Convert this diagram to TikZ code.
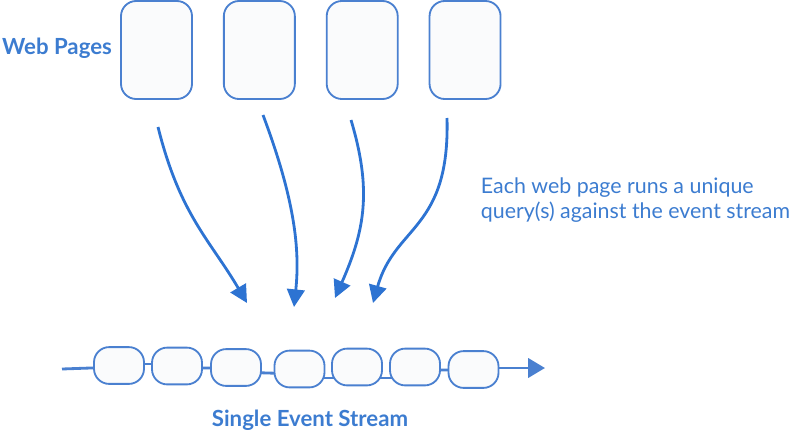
\documentclass[tikz,border=0pt]{standalone}
\usepackage{fontspec}
\setmainfont{Lato}
\usepackage{tikz}
\usetikzlibrary{positioning}
\usetikzlibrary{arrows.meta}
\usetikzlibrary{calc}
\usetikzlibrary{backgrounds}
\definecolor{edgecolor}{RGB}{74,128,208}
\definecolor{arrowcolor}{RGB}{45,115,210}
\definecolor{labelcolor}{RGB}{60,124,208}
\definecolor{boxfill}{RGB}{250,251,252}

\begin{document}
\begin{tikzpicture}[
    x=0.025cm, y=-0.025cm,
    page/.style={rectangle, draw=edgecolor, fill=boxfill, line width=1.3pt, minimum width=1.775cm, minimum height=2.45cm, rounded corners=0.38cm},
    event/.style={rectangle, draw=edgecolor, fill=boxfill, line width=1.3pt, minimum width=1.25cm, minimum height=0.92cm, rounded corners=0.38cm},
    arrow/.style={-{Triangle[length=0.44cm, width=0.44cm]}, line width=2pt, draw=arrowcolor},
    streamline/.style={line width=2pt, draw=edgecolor},
    title/.style={font=\fontsize{15.8}{18}\selectfont\bfseries, text=labelcolor}
]
\useasboundingbox (0,0) rectangle (800,434);

% Web pages
\node[page] (p1) at (156.5,50) {};
\node[page, right=0.75cm of p1] (p2) {};
\node[page, right=0.75cm of p2] (p3) {};
\node[page, right=0.75cm of p3] (p4) {};
\node[title, left=0.08cm of p1, yshift=1pt] (pages) {Web Pages};

% Event stream
\node[event] (ev1) at (119,365.5) {};
\node[event] (ev2) at (177,366) {};
\node[event] (ev3) at (236,367.5) {};
\node[event] (ev4) at (299.5,369) {};
\node[event] (ev5) at (357,367) {};
\node[event] (ev6) at (415,367) {};
\node[event] (ev7) at (473.5,369.5) {};
\node[title] (stream) at (310,420) {Single Event Stream};

% Caption
\node[anchor=west, align=left, text=labelcolor, font=\fontsize{15.2}{17.8}\selectfont] (query) at (476,200) {Each web page runs a unique\\query(s) against the event stream};

% Arrow ends
\coordinate (s1) at (158,127);
\coordinate (s2) at (263,115);
\coordinate (s3) at (351,120);
\coordinate (s4) at (447,118);
\coordinate (q1) at (247,303);
\coordinate (q2) at (294,307);
\coordinate (q3) at (335,298);
\coordinate (q4) at (373,303);
\coordinate (sin) at (62,369);
\coordinate (sout) at (545,368);

% Queries
\draw[arrow] (s1) .. controls (180,215) and (210,240) .. (q1);
\draw[arrow] (s2) .. controls (295,200) and (300,250) .. (q2);
\draw[arrow] (s3) .. controls (372,190) and (365,230) .. (q3);
\draw[arrow] (s4) .. controls (450,230) and (395,225) .. (q4);

% Stream links
\begin{scope}[on background layer]
\draw[streamline] (sin) -- ($(ev1)+(0,1.5)$);
\draw[streamline] ($(ev1)+(0,-1.5)$) -- ($(ev2)+(0,-2)$);
\draw[streamline] ($(ev2)+(0,2)$) -- ($(ev3)+(0,0.5)$);
\draw[streamline] ($(ev3)+(0,4.5)$) -- ($(ev4)+(0,5)$);
\draw[streamline] ($(ev4)+(0,9)$) -- ($(ev5)+(0,11)$);
\draw[streamline] ($(ev5)+(0,11)$) -- ($(ev6)+(0,11)$);
\draw[streamline] ($(ev6)+(0,3)$) -- ($(ev7)+(0,0.5)$);
\end{scope}
\draw[arrow, draw=edgecolor, -{Triangle[length=0.42cm, width=0.48cm]}] ($(ev7.east)+(0,-1.5)$) -- (sout);

\end{tikzpicture}
\end{document}
